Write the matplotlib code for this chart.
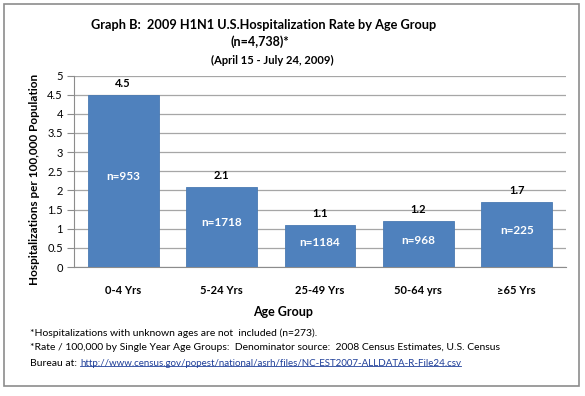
import matplotlib
matplotlib.use("Agg")
import matplotlib.pyplot as plt
from matplotlib.patches import Rectangle
from matplotlib.lines import Line2D

plt.rcParams['font.family'] = ['Lato', 'DejaVu Sans']

# data
age_groups = ['0-4 Yrs', '5-24 Yrs', '25-49 Yrs', '50-64 yrs', '\u226565 Yrs']
rates = [4.5, 2.1, 1.1, 1.2, 1.7]
counts = [953, 1718, 1184, 968, 225]
y_ticks = [0, 0.5, 1, 1.5, 2, 2.5, 3, 3.5, 4, 4.5, 5]

W, H = 585, 396
fig = plt.figure(figsize=(W / 100, H / 100), dpi=100)

# outer frame of the chart
fig.patches.append(Rectangle((4 / W, 10 / H), 575 / W, 382 / H,
                             transform=fig.transFigure, fill=False,
                             edgecolor='#8c8c8c', linewidth=1.2))

ax = fig.add_axes([74 / W, (H - 267) / H, 492 / W, (267 - 75.5) / H])
x = range(len(age_groups))
ax.bar(x, rates, width=0.72, color='#4f81bd', edgecolor='#4a7ab3',
       linewidth=0.6, zorder=3)

for xi, r, n in zip(x, rates, counts):
    ax.annotate(f'{r:.1f}', (xi, r), xytext=(0, 8), textcoords='offset points',
                ha='center', va='center', fontsize=8, fontweight='bold')
    ax.text(xi, r / 2 + 0.1, f'n={n}', ha='center', va='center',
            fontsize=8.5, fontweight='bold', color='white', zorder=4)

ax.set_xlim(-0.5, len(age_groups) - 0.5)
ax.set_ylim(0, 5)
ax.set_yticks(y_ticks)
ax.set_yticklabels([f'{t:g}' for t in y_ticks], fontsize=8)
ax.set_xticks(list(x))
ax.set_xticklabels(age_groups, fontsize=8, fontweight='bold')
ax.tick_params(axis='x', length=0, pad=13)
ax.tick_params(axis='y', length=5, color='#8c8c8c', pad=3)
ax.yaxis.grid(True, color='#a6a6a6', linewidth=0.9, zorder=0)
for side in ['top', 'right']:
    ax.spines[side].set_visible(False)
for side in ['left', 'bottom']:
    ax.spines[side].set_color('#8c8c8c')

fig.text(35 / W, 1 - 179 / H, 'Hospitalizations per 100,000 Population',
         rotation=90, ha='center', va='center', fontsize=8.5,
         fontweight='bold')
fig.text(283 / W, 1 - 312 / H, 'Age Group', ha='center', va='center',
         fontsize=9, fontweight='bold')

fig.text(264 / W, 1 - 25 / H,
         'Graph B:  2009 H1N1 U.S.Hospitalization Rate by Age Group',
         ha='center', va='center', fontsize=9.2, fontweight='bold')
fig.text(260 / W, 1 - 42 / H, '(n=4,738)*', ha='center', va='center',
         fontsize=9, fontweight='bold')
fig.text(272 / W, 1 - 60 / H, '(April 15 - July 24, 2009)', ha='center',
         va='center', fontsize=8, fontweight='bold')

fig.text(30 / W, 1 - 333 / H,
         '*Hospitalizations with unknown ages are not  included (n=273).',
         ha='left', va='center', fontsize=7.5)
fig.text(30 / W, 1 - 348 / H,
         '*Rate / 100,000 by Single Year Age Groups:  Denominator source:  '
         '2008 Census Estimates, U.S. Census',
         ha='left', va='center', fontsize=7.5)
fig.text(30 / W, 1 - 363 / H, 'Bureau at: ', ha='left', va='center',
         fontsize=7.5)
url = fig.text(80 / W, 1 - 363 / H,
               'http://www.census.gov/popest/national/asrh/files/'
               'NC-EST2007-ALLDATA-R-File24.csv',
               ha='left', va='center', fontsize=7, color='#1f3f99')

# underline the link
fig.canvas.draw()
bb = url.get_window_extent().transformed(fig.transFigure.inverted())
fig.lines.append(Line2D([bb.x0, bb.x1], [bb.y0 + 0.004, bb.y0 + 0.004],
                        transform=fig.transFigure, color='#1f3f99',
                        linewidth=0.6))

fig.savefig('out.png', dpi=100)
